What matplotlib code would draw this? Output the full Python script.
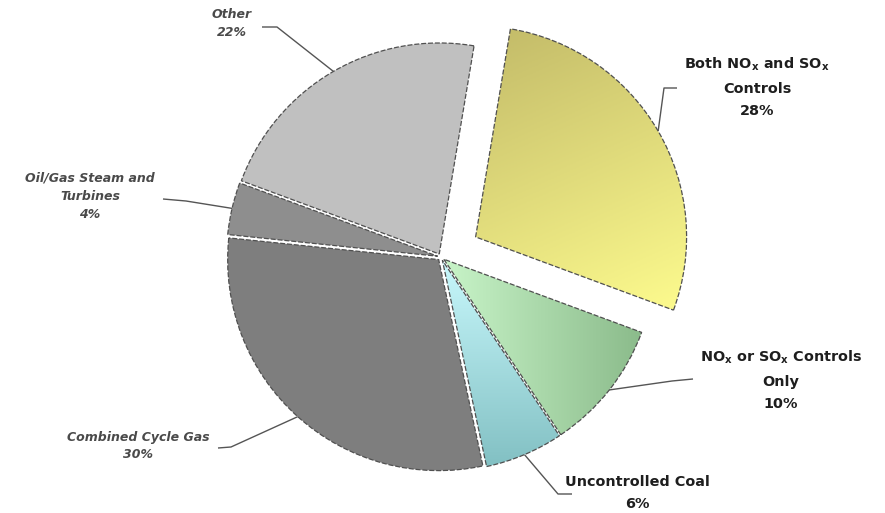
import numpy as np
import matplotlib
matplotlib.use("Agg")
import matplotlib.pyplot as plt
from matplotlib.colors import LinearSegmentedColormap

# ---- data ----
categories = ["Other", "Oil/Gas Steam and\nTurbines", "Combined Cycle Gas",
              "Uncontrolled Coal", "NO$_{\\mathregular{x}}$ or SO$_{\\mathregular{x}}$ Controls\nOnly",
              "Both NO$_{\\mathregular{x}}$ and SO$_{\\mathregular{x}}$\nControls"]
shares = [22, 4, 30, 6, 10, 28]
pct_labels = ["22%", "4%", "30%", "6%", "10%", "28%"]

# ---- style ----
W, H = 885, 513
CX, CY = 441, H - 257
R = 211
explode = [3.5, 3.5, 3.5, 3.5, 3.5, 40]
flat_colors = ["#c0c0c0", "#8e8e8e", "#7e7e7e", None, None, None]
gradients = {3: ("#c8f8fc", "#82c0c3", "v"),
             4: ("#c8f4c8", "#8bbb8b", "h"),
             5: ("#c2ba68", "#fdfb8e", "d")}

fig = plt.figure(figsize=(W / 100, H / 100), dpi=100)
ax = fig.add_axes([0, 0, 1, 1])

wedges, _ = ax.pie(shares, explode=explode, center=(CX, CY), radius=R,
                   startangle=80.5, counterclock=True,
                   colors=[c if c else "none" for c in flat_colors],
                   wedgeprops=dict(edgecolor="#505050", linewidth=0.9,
                                   linestyle=(0, (4, 1.5))))
ax.set_aspect("equal")
ax.axis("off")

# gradient fills clipped to wedges
for i, (c0, c1, mode) in gradients.items():
    w = wedges[i]
    bb = w.get_path().get_extents(w.get_patch_transform())
    n = 200
    yy, xx = np.mgrid[0:1:n * 1j, 0:1:n * 1j]
    if mode == "v":
        t = yy
    elif mode == "h":
        t = xx
    else:
        t = 0.75 * yy + 0.25 * xx
    cmap = LinearSegmentedColormap.from_list("g%d" % i, [c0, c1])
    im = ax.imshow(t, cmap=cmap, vmin=0, vmax=1, origin="upper",
                   extent=[bb.x0, bb.x1, bb.y0, bb.y1], zorder=0.5,
                   interpolation="bilinear", aspect="auto")
    im.set_clip_path(w)
ax.set_xlim(0, W)
ax.set_ylim(0, H)


def P(x, y):
    return (x, H - y)


def arc_point(i, frac=0.5):
    w = wedges[i]
    th = np.deg2rad(w.theta1 + frac * (w.theta2 - w.theta1))
    cx, cy = w.center
    return (cx + w.r * np.cos(th), cy + w.r * np.sin(th))


line_kw = dict(color="#555555", lw=1.0, solid_capstyle="butt")
left_txt = dict(fontsize=9, fontweight="bold", fontstyle="italic",
                color="#4a4a4a", ha="center", va="center", linespacing=1.5)
right_txt = dict(fontsize=10.4, fontweight="bold", color="#1e1e1e",
                 ha="center", va="center", linespacing=1.75)

# leader elbows / text anchors (pixel layout)
leaders = [
    [P(262, 27), P(277, 27)],
    [P(163, 199), P(186, 201)],
    [P(218, 448), P(231, 447)],
    [P(572, 494), P(558, 494)],
    [P(693, 379), P(672, 381)],
    [P(677, 88), P(664, 88)],
]
text_pos = [P(232, 24), P(90, 196), P(138, 446), P(637, 493), P(781, 380), P(757, 87)]

for i in range(len(shares)):
    pts = leaders[i] + [arc_point(i)]
    xs, ys = zip(*pts)
    ax.plot(xs, ys, zorder=2, **line_kw)
    kw = left_txt if i < 3 else right_txt
    ax.text(*text_pos[i], categories[i] + "\n" + pct_labels[i], **kw)

fig.savefig("out.png", dpi=100, facecolor="white")
